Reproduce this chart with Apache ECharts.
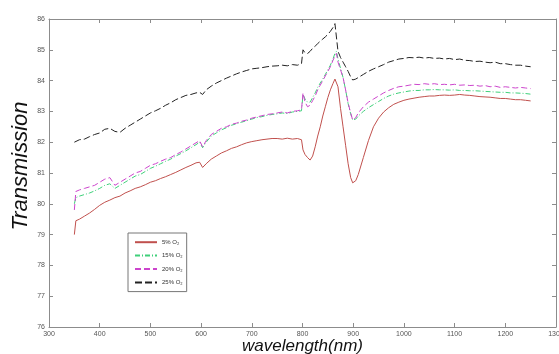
<!DOCTYPE html>
<html>
<head>
<meta charset="utf-8">
<style>
  html, body { margin: 0; padding: 0; background: #fff; }
  #chart { width: 559px; height: 354px; }
</style>
<script src="https://cdn.jsdelivr.net/npm/echarts@6/dist/echarts.min.js"></script>
</head>
<body>
<div id="chart"></div>
<script>
// wavelength (nm)
const wavelengths = [
  350, 353, 360, 370, 380, 390, 400, 410, 420, 430,
  440, 450, 460, 470, 480, 490, 500, 510, 520, 530,
  540, 550, 560, 570, 580, 590, 597, 603, 610, 620,
  630, 640, 650, 660, 670, 680, 690, 700, 710, 720,
  730, 740, 750, 760, 770, 780, 790, 798, 801, 805,
  810, 815, 820, 825, 830, 835, 840, 845, 850, 855,
  860, 864, 867, 870, 875, 880, 885, 890, 895, 899,
  905, 910, 920, 930, 940, 950, 960, 970, 980, 990,
  1000, 1010, 1020, 1030, 1040, 1050, 1060, 1070, 1080, 1090,
  1100, 1110, 1120, 1130, 1140, 1150, 1160, 1170, 1180, 1190,
  1200, 1210, 1220, 1230, 1240, 1250
];

const o2_5 = [
  79.0, 79.45, 79.5, 79.6, 79.7, 79.82, 79.95, 80.05, 80.12, 80.2,
  80.25, 80.35, 80.42, 80.5, 80.55, 80.62, 80.7, 80.75, 80.82, 80.88,
  80.95, 81.02, 81.1, 81.18, 81.25, 81.33, 81.35, 81.18, 81.3, 81.45,
  81.55, 81.65, 81.72, 81.8, 81.85, 81.92, 81.98, 82.02, 82.05, 82.08,
  82.1, 82.12, 82.12, 82.1, 82.13, 82.1, 82.12, 82.08, 81.75, 81.6,
  81.5, 81.42, 81.55, 81.85, 82.2, 82.5, 82.85, 83.15, 83.45, 83.7,
  83.9, 84.05, 84.1, 83.8, 83.1, 82.5, 81.9, 81.3, 80.85, 80.68,
  80.75, 80.95, 81.5, 82.05, 82.5, 82.78, 82.98, 83.12, 83.23, 83.3,
  83.36, 83.4, 83.43, 83.46, 83.48, 83.5, 83.5, 83.52, 83.53, 83.52,
  83.53, 83.55, 83.53, 83.52, 83.5, 83.48, 83.47, 83.46, 83.44, 83.42,
  83.42, 83.4, 83.38, 83.38, 83.36, 83.34
];

const o2_15 = [
  80.0, 80.2, 80.25, 80.3, 80.35, 80.42, 80.5, 80.6, 80.65, 80.5,
  80.6, 80.7, 80.8, 80.9, 80.95, 81.05, 81.15, 81.22, 81.3, 81.38,
  81.45, 81.55, 81.63, 81.72, 81.82, 81.92, 82.0, 81.82, 82.0, 82.2,
  82.3, 82.4, 82.47, 82.55, 82.6, 82.65, 82.7, 82.75, 82.8, 82.83,
  82.87, 82.9, 82.92, 82.95, 82.93, 82.98, 83.0, 83.02, 83.55, 83.4,
  83.3, 83.3, 83.45, 83.6, 83.78, 83.92, 84.05, 84.2, 84.35, 84.5,
  84.7, 84.88, 84.95, 84.7, 84.4, 84.1, 83.7, 83.25, 82.92, 82.72,
  82.75, 82.85, 83.0, 83.12, 83.22, 83.32, 83.42, 83.5, 83.56, 83.6,
  83.63, 83.66, 83.68, 83.68, 83.7, 83.7, 83.71, 83.7, 83.7, 83.69,
  83.7, 83.68, 83.68, 83.67, 83.67, 83.66, 83.65, 83.64, 83.63, 83.62,
  83.62, 83.6, 83.6, 83.59, 83.58, 83.56
];

const o2_20 = [
  79.8, 80.4, 80.45, 80.5, 80.55, 80.6, 80.7, 80.8, 80.85, 80.6,
  80.7, 80.8, 80.9, 81.0, 81.05, 81.15, 81.25, 81.3, 81.38, 81.45,
  81.5, 81.6, 81.68, 81.78, 81.88, 81.98, 82.05, 81.85, 82.05, 82.25,
  82.35, 82.45, 82.5, 82.58, 82.62, 82.68, 82.72, 82.78, 82.82, 82.86,
  82.9, 82.92, 82.95, 82.98, 82.95, 83.0, 83.02, 83.05, 83.6, 83.3,
  83.15, 83.2, 83.35, 83.5, 83.7, 83.85, 84.0, 84.15, 84.3, 84.45,
  84.65, 84.8, 84.88, 84.6, 84.35, 84.1, 83.7, 83.27, 82.95, 82.72,
  82.8, 82.95, 83.15, 83.3, 83.4, 83.5, 83.6, 83.68, 83.75, 83.8,
  83.82, 83.85, 83.88, 83.87, 83.9, 83.88, 83.9, 83.87, 83.88, 83.86,
  83.88, 83.85, 83.86, 83.84, 83.85, 83.82, 83.84, 83.8, 83.82, 83.78,
  83.8, 83.78, 83.76, 83.78, 83.76, 83.74
];

const o2_25 = [
  82.0, 82.02, 82.08, 82.1, 82.18, 82.25, 82.3, 82.42, 82.45, 82.35,
  82.32, 82.45, 82.55, 82.65, 82.75, 82.85, 82.95, 83.02, 83.1, 83.2,
  83.28, 83.38, 83.45, 83.52, 83.55, 83.6, 83.62, 83.55, 83.7, 83.82,
  83.92, 84.0, 84.08, 84.15, 84.22, 84.28, 84.33, 84.38, 84.4, 84.42,
  84.45, 84.47, 84.48, 84.5, 84.48, 84.52, 84.5, 84.55, 85.0, 84.9,
  84.88, 84.95, 85.05, 85.12, 85.2, 85.28, 85.35, 85.42, 85.5, 85.6,
  85.72, 85.85, 85.82, 84.95, 84.75, 84.6, 84.45, 84.3, 84.12, 84.02,
  84.05, 84.1, 84.2, 84.3, 84.38, 84.45, 84.52, 84.6, 84.65, 84.7,
  84.72, 84.75, 84.74, 84.76, 84.73, 84.75, 84.72, 84.73, 84.7, 84.72,
  84.68, 84.7, 84.66, 84.65, 84.62, 84.63, 84.6, 84.58, 84.6, 84.55,
  84.55, 84.52, 84.5, 84.5, 84.47, 84.45
];

const seriesNames = ['5% O₂', '15% O₂', '20% O₂', '25% O₂'];
const xTicks = { min: 300, max: 1300, step: 100 };
const yTicks = { min: 76, max: 86, step: 1 };

const chart = echarts.init(document.getElementById('chart'));

const pair = (vals) => wavelengths.map((w, i) => [w, vals[i]]);

const axisGrey = '#8c8c8c';
const tickLabel = { color: '#555', fontSize: 7, fontFamily: 'Liberation Sans', formatter: (v) => String(v) };

const makeLine = (name, vals, color, type) => ({
  name,
  type: 'line',
  data: pair(vals),
  symbol: 'none',
  smooth: false,
  animation: false,
  lineStyle: { color, width: 1, type },
  itemStyle: { color },
});

const frameAxis = {
  axisLine: { show: true, onZero: false, lineStyle: { color: axisGrey } },
  axisTick: { inside: true, length: 4, lineStyle: { color: axisGrey } },
  splitLine: { show: false },
};

chart.setOption({
  animation: false,
  grid: { left: 49, right: 3, top: 19, bottom: 27, containLabel: false, outerBoundsMode: 'none' },
  legend: {
    orient: 'vertical',
    left: 128,
    top: 233,
    width: 54,
    padding: [6, 4, 6, 6],
    itemGap: 7,
    itemWidth: 22,
    itemHeight: 8,
    backgroundColor: '#fff',
    borderColor: '#777',
    borderWidth: 1,
    borderRadius: 0,
    itemStyle: { opacity: 0 },
    textStyle: { fontSize: 6, color: '#333', fontFamily: 'Liberation Sans' },
    data: seriesNames,
  },
  xAxis: [
    Object.assign({
      type: 'value',
      min: xTicks.min,
      max: xTicks.max,
      interval: xTicks.step,
      name: 'wavelength(nm)',
      nameLocation: 'middle',
      nameGap: 11,
      nameMoveOverlap: false,
      nameTextStyle: { fontSize: 17, fontStyle: 'italic', color: '#111', fontFamily: 'Liberation Sans' },
      axisLabel: Object.assign({ margin: 4 }, tickLabel),
    }, frameAxis),
    Object.assign({
      type: 'value',
      position: 'top',
      min: xTicks.min,
      max: xTicks.max,
      interval: xTicks.step,
      axisLabel: { show: false },
    }, frameAxis),
  ],
  yAxis: [
    Object.assign({
      type: 'value',
      min: yTicks.min,
      max: yTicks.max,
      interval: yTicks.step,
      name: 'Transmission',
      nameLocation: 'middle',
      nameGap: 17,
      nameMoveOverlap: false,
      nameTextStyle: { fontSize: 22, fontStyle: 'italic', color: '#111', fontFamily: 'Liberation Sans', padding: [0, 0, 0, 14] },
      axisLabel: Object.assign({ margin: 4 }, tickLabel),
    }, frameAxis),
    Object.assign({
      type: 'value',
      position: 'right',
      min: yTicks.min,
      max: yTicks.max,
      interval: yTicks.step,
      axisLabel: { show: false },
    }, frameAxis),
  ],
  series: [
    makeLine(seriesNames[0], o2_5, '#c0504d', 'solid'),
    makeLine(seriesNames[1], o2_15, '#3fd07a', [5, 2, 1, 2]),
    makeLine(seriesNames[2], o2_20, '#cc44cc', [6, 3]),
    makeLine(seriesNames[3], o2_25, '#222222', [7, 3]),
  ],
});

window.addEventListener('resize', () => chart.resize());
</script>
</body>
</html>
